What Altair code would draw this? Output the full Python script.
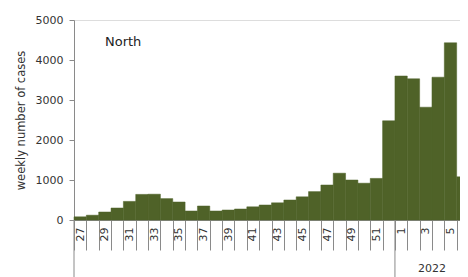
import altair as alt
import pandas as pd

weeks = [str(w) for w in range(27, 53)] + [str(w) for w in range(1, 7)]
cases = [80, 120, 200, 300, 465, 640, 645, 535, 450, 225, 350, 225, 250, 275,
         330, 375, 430, 500, 580, 710, 875, 1170, 1000, 920, 1040, 2480,
         3600, 3530, 2820, 3570, 4430, 1080]
group_starts = ["27", "1"]
group_labels = ["2022"]
group_label_at = ["4"]
region = "North"

df = pd.DataFrame({"week": weeks, "cases": cases})
sep = pd.DataFrame({"week": group_starts})
yl = pd.DataFrame({"week": group_label_at, "label": group_labels})

FONT = "DejaVu Sans"
GREEN = "#4F6228"
AX = "#8a8a8a"
W = 386
H = 200

xscale = alt.Scale(domain=weeks, paddingInner=0, paddingOuter=0, range=[0, 395])

bars = alt.Chart(df).mark_bar(color=GREEN, stroke=GREEN, strokeWidth=0.5).encode(
    x=alt.X("week:N", sort=weeks, scale=xscale,
            axis=alt.Axis(title=None, labelAngle=-90, tickBand="extent",
                          tickSize=30, labelPadding=-23, labelFont=FONT,
                          labelFontSize=11, labelColor="#333333",
                          domainColor=AX, tickColor=AX,
                          labelExpr="toNumber(datum.value) % 2 == 1 ? datum.value : ''")),
    y=alt.Y("cases:Q", scale=alt.Scale(domain=[0, 5000], nice=False),
            axis=alt.Axis(title="weekly number of cases", values=[0, 1000, 2000, 3000, 4000, 5000],
                          format="d", grid=False, tickSize=5, labelPadding=6, labelFont=FONT,
                          labelFontSize=11, labelColor="#333333", titleFont=FONT,
                          titleFontSize=11.5, titleFontWeight="normal", titleColor="#333333",
                          titlePadding=9, domainColor=AX, tickColor=AX)),
)

rules = alt.Chart(sep).mark_rule(color=AX, strokeWidth=1).encode(
    x=alt.X("week:N", sort=weeks, scale=xscale, bandPosition=0),
    y=alt.value(H),
    y2=alt.value(H + 70),
)

glabel = alt.Chart(yl).mark_text(font=FONT, fontSize=11, color="#333333",
                                 baseline="middle").encode(
    x=alt.X("week:N", sort=weeks, scale=xscale, bandPosition=0),
    y=alt.value(H + 49),
    text="label:N",
)

north = alt.Chart(pd.DataFrame({"t": [region]})).mark_text(
    font=FONT, fontSize=13, color="#222222", align="left", baseline="middle"
).encode(x=alt.value(31), y=alt.value(22), text="t:N")

chart = alt.layer(bars, rules, glabel, north).properties(
    width=W, height=H,
    padding={"left": 66, "top": 12, "right": 0, "bottom": 60},
    autosize=alt.AutoSizeParams(type="none"),
).configure_view(stroke=None).configure(background="white")

chart.save("out.html", embed_options={"renderer": "svg", "actions": False})
